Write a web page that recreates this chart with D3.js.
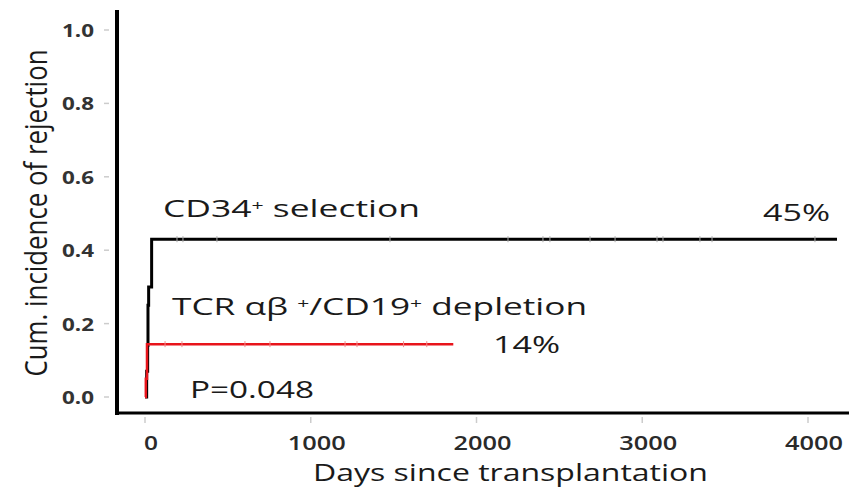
<!DOCTYPE html>
<html>
<head>
<meta charset="utf-8">
<script src="https://cdn.jsdelivr.net/npm/d3@7"></script>
<style>
  body { margin: 0; background: #fff; }
  svg { display: block; font-family: "Open Sans", Lato, sans-serif; }
</style>
</head>
<body>
<svg id="chart" width="849" height="489"></svg>
<script>
// cumulative incidence steps (day, value)
var cd34Days = [0, 10, 16, 18, 22, 40];
var cd34Cum = [0, 0.07, 0.14, 0.25, 0.30, 0.43];
var cd34End = 4175;
var cd34Censor = [193, 229, 434, 1478, 2190, 2401, 2443, 2685, 2836, 3089, 3125, 3348, 3421, 4042];

var tcrDays = [0, 5, 12];
var tcrCum = [0, 0.05, 0.144];
var tcrEnd = 1860;
var tcrCensor = [121, 223, 603, 754, 1207, 1279, 1560, 1700];

var xTicks = [0, 1000, 2000, 3000, 4000];
var yTicks = [0, 0.2, 0.4, 0.6, 0.8, 1.0];

var svg = d3.select('#chart');
var x = d3.scaleLinear().domain([0, 4000]).range([145, 808]);
var y = d3.scaleLinear().domain([0, 1]).range([397, 30]);

function steps(days, cum, end) {
    var pts = days.map(function(d, i) { return [d, cum[i]]; });
    pts.push([end, cum[cum.length - 1]]);
    return pts;
}

var line = d3.line()
    .x(function(d) { return x(d[0]); })
    .y(function(d) { return y(d[1]); })
    .curve(d3.curveStepAfter);

// faint tick marks
svg.append('g').selectAll('line').data(yTicks).enter().append('line')
    .attr('x1', 104).attr('x2', 109)
    .attr('y1', function(d) { return y(d); })
    .attr('y2', function(d) { return y(d); })
    .attr('stroke', '#ccc').attr('stroke-width', 1.5);
svg.append('g').selectAll('line').data(xTicks).enter().append('line')
    .attr('x1', function(d) { return x(d); })
    .attr('x2', function(d) { return x(d); })
    .attr('y1', 417).attr('y2', 423)
    .attr('stroke', '#ccc').attr('stroke-width', 1.5);

// tick labels
svg.append('g').selectAll('text').data(yTicks).enter().append('text')
    .attr('x', 94)
    .attr('y', function(d) { return y(d) + 7; })
    .attr('text-anchor', 'end')
    .attr('font-size', 17).attr('font-weight', 'bold').attr('fill', '#333')
    .attr('textLength', 32).attr('lengthAdjust', 'spacingAndGlyphs')
    .text(function(d) { return d3.format('.1f')(d); });
svg.append('g').selectAll('text').data(xTicks).enter().append('text')
    .attr('x', function(d) { return x(d) + 6; })
    .attr('y', 450)
    .attr('text-anchor', 'middle')
    .attr('font-size', 19).attr('font-weight', 600).attr('fill', '#2a2a2a')
    .attr('textLength', function(d) { return d === 0 ? 14 : 58; })
    .attr('lengthAdjust', 'spacingAndGlyphs')
    .text(function(d) { return d; });

// axes
svg.append('line').attr('x1', 117).attr('x2', 117).attr('y1', 10).attr('y2', 415)
    .attr('stroke', '#000').attr('stroke-width', 4);
svg.append('line').attr('x1', 115).attr('x2', 849).attr('y1', 413).attr('y2', 413)
    .attr('stroke', '#000').attr('stroke-width', 3);

// curves
svg.append('path').datum(steps(cd34Days, cd34Cum, cd34End))
    .attr('d', line).attr('fill', 'none').attr('stroke', '#000').attr('stroke-width', 3);
svg.append('g').selectAll('line').data(cd34Censor).enter().append('line')
    .attr('x1', function(d) { return x(d); }).attr('x2', function(d) { return x(d); })
    .attr('y1', y(0.43) - 3).attr('y2', y(0.43) + 3)
    .attr('stroke', '#aaa').attr('stroke-width', 1);

svg.append('path').datum(steps(tcrDays, tcrCum, tcrEnd))
    .attr('d', line).attr('fill', 'none').attr('stroke', '#e8141b').attr('stroke-width', 2.5);
svg.append('g').selectAll('line').data(tcrCensor).enter().append('line')
    .attr('x1', function(d) { return x(d); }).attr('x2', function(d) { return x(d); })
    .attr('y1', y(0.144) - 3).attr('y2', y(0.144) + 3)
    .attr('stroke', '#f08a8a').attr('stroke-width', 1);

// annotations
function label(parts, x0, base, w, size) {
    var t = svg.append('text').attr('x', x0).attr('y', base)
        .attr('font-size', size).attr('fill', '#1a1a1a')
        .attr('textLength', w).attr('lengthAdjust', 'spacingAndGlyphs');
    parts.forEach(function(p) {
        if (p.sup) {
            t.append('tspan').attr('font-size', size * 0.6).attr('baseline-shift', '45%').text(p.s);
        } else {
            t.append('tspan').text(p.s);
        }
    });
    return t;
}
label([{s: 'CD34'}, {s: '+', sup: true}, {s: '  selection'}], 163, 217, 257, 24);
label([{s: '45%'}], 763, 221, 67, 24);
label([{s: 'TCR αβ '}, {s: '+', sup: true}, {s: '/CD19'}, {s: '+', sup: true}, {s: ' depletion'}], 172, 315, 415, 24);
label([{s: '14%'}], 493, 353, 67, 24);
label([{s: 'P=0.048'}], 190, 398, 124, 24);
label([{s: 'Days since transplantation'}], 313, 481, 395, 24);

svg.append('text')
    .attr('transform', 'translate(47,213) scale(1.3,1) rotate(-90)')
    .attr('text-anchor', 'middle')
    .attr('font-size', 24).attr('fill', '#1a1a1a')
    .attr('textLength', 327).attr('lengthAdjust', 'spacingAndGlyphs')
    .text('Cum. incidence of rejection');
</script>
</body>
</html>
